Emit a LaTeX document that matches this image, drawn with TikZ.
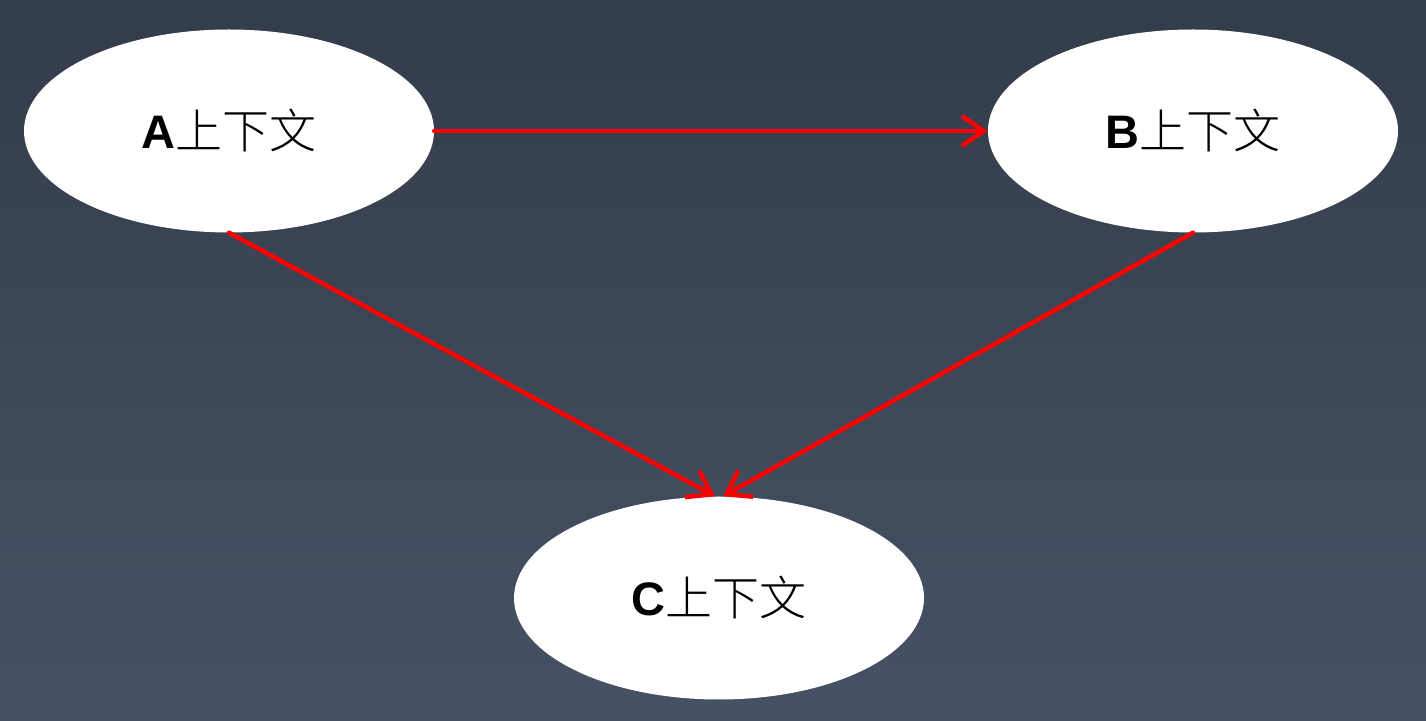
\documentclass[tikz,border=0pt]{standalone}
\usepackage{fontspec}
\setsansfont{Liberation Sans}
\newfontfamily\cjk{Noto Sans CJK SC Light}
\usetikzlibrary{shapes.geometric,arrows.meta}
\definecolor{bgtop}{HTML}{333C4A}
\definecolor{bgbot}{HTML}{465264}
\definecolor{arrowred}{HTML}{FF0000}
\tikzset{
  ctx/.style={ellipse, fill=white, draw=none, minimum width=410pt, minimum height=203pt, inner sep=0pt, font=\fontsize{47}{50}\selectfont},
  link/.style={draw=arrowred, line width=4.5pt, line cap=round, -{Straight Barb[length=22pt,width=30pt,line width=4.5pt]}}
}
\begin{document}
\begin{tikzpicture}[x=1pt,y=1pt]
  \shade[top color=bgtop, bottom color=bgbot] (0,0) rectangle (1426,720);
  \useasboundingbox (0,0) rectangle (1426,720);
  \node[ctx] (a) at (229,589) {{\sffamily\bfseries A}{\cjk 上下文}};
  \node[ctx] (b) at (1193,589) {{\sffamily\bfseries B}{\cjk 上下文}};
  \node[ctx] (c) at (719,122) {{\sffamily\bfseries C}{\cjk 上下文}};
  \draw[link] (a.east) -- (b.west);
  \draw[link] (a.south) -- ([xshift=-4pt]c.north);
  \draw[link] (b.south) -- ([xshift=4pt]c.north);
\end{tikzpicture}
\end{document}
